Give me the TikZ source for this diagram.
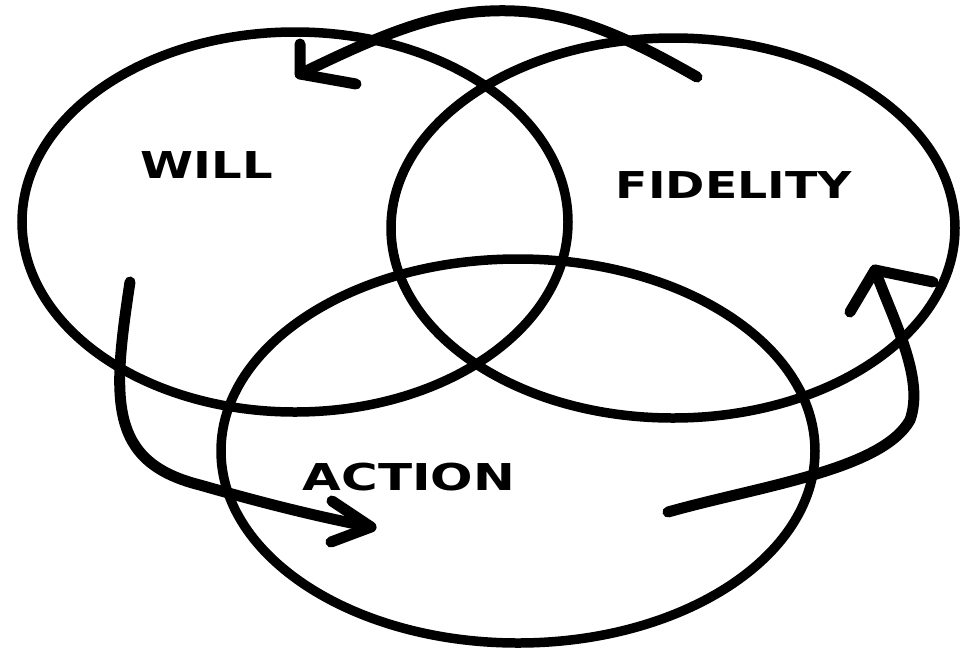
\documentclass[tikz,border=0pt]{standalone}
\usepackage{fontspec}
\usepackage{graphicx}
\setmainfont{DejaVu Sans}
\tikzset{
  ring/.style={draw=black, line width=9.5pt},
  hand/.style={draw=black, line width=11pt, line cap=round, line join=round},
  label/.style={inner sep=0pt, font=\bfseries\fontsize{37}{40}\selectfont, text=black}
}
\begin{document}
\begin{tikzpicture}[x=1pt, y=-1pt]
\useasboundingbox (0,0) rectangle (967,649);
% circles
\draw[ring] (295,222) ellipse [x radius=273pt, y radius=190pt];
\draw[ring] (673,228) ellipse [x radius=282pt, y radius=190pt];
\draw[ring] (518,451) ellipse [x radius=297pt, y radius=192pt];
% labels
\node[label] (will) at (207,165) {\scalebox{1.3}[1]{WILL}};
\node[label] (fidelity) at (734,185) {\scalebox{1.28}[1]{FIDELITY}};
\node[label] (action) at (409,477) {\scalebox{1.35}[1]{ACTION}};
% arrow 1 (top)
\coordinate (a1s) at (697,77);
\coordinate (a1p) at (490,11);
\coordinate (a1t) at (300,74);
\coordinate (a1b1) at (300,44);
\coordinate (a1b2) at (356,84);
\draw[hand] (a1s) .. controls (615,30) and (560,8) .. (a1p)
  .. controls (430,13) and (370,40) .. (a1t);
\draw[hand] (a1b1) -- (a1t) -- (a1b2);
% arrow 2 (left)
\coordinate (a2s) at (130,282);
\coordinate (a2m) at (200,485);
\coordinate (a2t) at (371,527);
\coordinate (a2b1) at (332,501);
\coordinate (a2b2) at (331,542);
\draw[hand] (a2s) .. controls (112,400) and (108,462) .. (a2m)
  .. controls (270,505) and (320,517) .. (a2t);
\draw[hand] (a2b1) -- (a2t) -- (a2b2);
% arrow 3 (right)
\coordinate (a3s) at (668,512);
\coordinate (a3m) at (910,420);
\coordinate (a3t) at (875,270);
\coordinate (a3b1) at (850,312);
\coordinate (a3b2) at (933,282);
\draw[hand] (a3s) .. controls (760,486) and (882,470) .. (a3m)
  .. controls (925,378) and (893,320) .. (a3t);
\draw[hand] (a3b1) -- (a3t) -- (a3b2);
\end{tikzpicture}
\end{document}
